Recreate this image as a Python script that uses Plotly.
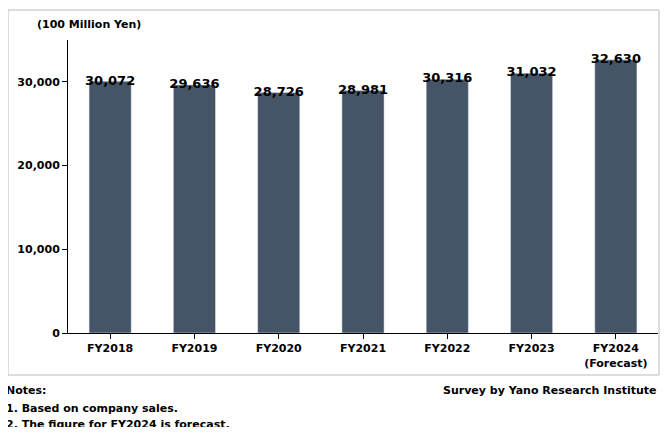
import plotly.graph_objects as go

categories = ["FY2018", "FY2019", "FY2020", "FY2021", "FY2022", "FY2023", "FY2024<br>(Forecast)"]
values = [30072, 29636, 28726, 28981, 30316, 31032, 32630]
labels = ["30,072", "29,636", "28,726", "28,981", "30,316", "31,032", "32,630"]

F = "DejaVu Sans"
fig = go.Figure()
fig.add_bar(x=categories, y=values, marker_color="#465467", width=0.5)
fig.add_scatter(x=categories, y=values, mode="text", text=labels,
                textposition="middle center", cliponaxis=False,
                textfont=dict(family=F, size=13, color="black", weight="bold"))
W, H = 652, 419
L, T, PW, PH = 60, 32, 590, 293
fig.update_layout(
    width=W, height=H, paper_bgcolor="white", plot_bgcolor="white",
    margin=dict(l=L, r=W - L - PW, t=T, b=H - T - PH), showlegend=False,
    font=dict(family=F, size=11, color="black"),
    xaxis=dict(showline=True, linecolor="black", ticks="outside", tickcolor="black",
               tickfont=dict(family=F, size=11, weight="bold")),
    yaxis=dict(range=[0, 35000], tickvals=[0, 10000, 20000, 30000], tickformat=",",
               showgrid=False, showline=True, linecolor="black", ticks="outside",
               tickcolor="black", zeroline=False,
               tickfont=dict(family=F, size=11, weight="bold")),
    shapes=[dict(type="rect", xref="paper", yref="paper",
                 x0=(0 - L) / PW, x1=(651 - L) / PW,
                 y0=(T + PH - 367) / PH, y1=(T + PH - 2) / PH,
                 line=dict(color="#bbbbbb", width=1))],
)
ann = [
    ("(100 Million Yen)", 27, 17, "left"),
    ("Notes:", -4, 382, "left"),
    ("1. Based on company sales.", -4, 400, "left"),
    ("2. The figure for FY2024 is forecast.", -4, 416, "left"),
    ("Survey by Yano Research Institute", 651, 382, "right"),
]
for t, px, py, al in ann:
    fig.add_annotation(text=t, xref="paper", yref="paper",
                       x=(px - L) / PW, y=(T + PH - py) / PH, xanchor=al, yanchor="middle",
                       showarrow=False, font=dict(family=F, size=11, weight="bold"))
fig.write_html("out.html")
